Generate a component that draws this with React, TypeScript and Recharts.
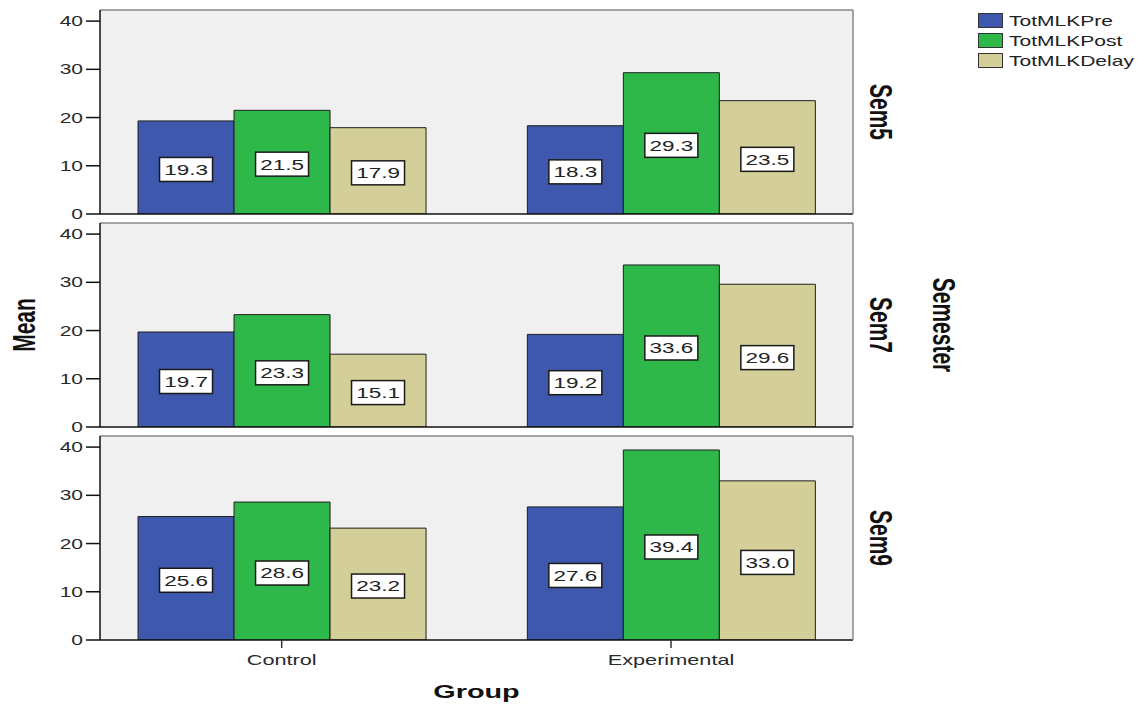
import React from 'react';
import { BarChart, Bar, XAxis, YAxis, CartesianGrid, LabelList, Legend } from 'recharts';

const categories = ['Control', 'Experimental'];
const seriesNames = ['TotMLKPre', 'TotMLKPost', 'TotMLKDelay'];
const seriesColors = ['#3e58ad', '#2fb84a', '#d4cf99'];
const yTicks = [0, 10, 20, 30, 40];

const sem5Pre = [19.3, 18.3];
const sem5Post = [21.5, 29.3];
const sem5Delay = [17.9, 23.5];

const sem7Pre = [19.7, 19.2];
const sem7Post = [23.3, 33.6];
const sem7Delay = [15.1, 29.6];

const sem9Pre = [25.6, 27.6];
const sem9Post = [28.6, 39.4];
const sem9Delay = [23.2, 33.0];

const FONT = '"Liberation Sans", Arial, sans-serif';
const X_DOMAIN: [number, number] = [-0.4667, 1.4675];
const Y_DOMAIN: [number, number] = [0, 42.3];

const build = (pre: number[], post: number[], delay: number[]) =>
  categories.map((name, i) => ({ x: i, name, pre: pre[i], post: post[i], delay: delay[i] }));

const panels = [
  { sem: 'Sem5', data: build(sem5Pre, sem5Post, sem5Delay) },
  { sem: 'Sem7', data: build(sem7Pre, sem7Post, sem7Delay) },
  { sem: 'Sem9', data: build(sem9Pre, sem9Post, sem9Delay) },
];

const YTick = (props: any) => {
  const { x, y, payload } = props;
  return (
    <text
      transform={`translate(${x},${y}) scale(1.5,1)`}
      textAnchor="end"
      dy="0.36em"
      fontSize={14}
      fontFamily={FONT}
      fill="#2a2a2a"
    >
      {payload.value}
    </text>
  );
};

const XTick = (props: any) => {
  const { x, y, payload } = props;
  return (
    <text
      transform={`translate(${x},${y + 17}) scale(1.55,1)`}
      textAnchor="middle"
      fontSize={14}
      fontFamily={FONT}
      fill="#2a2a2a"
    >
      {categories[payload.value]}
    </text>
  );
};

const ValueLabel = (props: any) => {
  const { x, y, width, height, value } = props;
  const cx = x + width / 2;
  const cy = y + height / 2 + 2;
  const w = 53;
  const h = 24;
  return (
    <g>
      <rect x={cx - w / 2} y={cy - h / 2} width={w} height={h} fill="#ffffff" stroke="#1a1a1a" strokeWidth={1.5} />
      <text
        transform={`translate(${cx},${cy}) scale(1.5,1)`}
        textAnchor="middle"
        dy="0.36em"
        fontSize={15}
        fontFamily={FONT}
        fill="#222"
      >
        {Number(value).toFixed(1)}
      </text>
    </g>
  );
};

const RotLabel = (text: string, dx: number, angle: number, size = 21) => (props: any) => {
  const { viewBox } = props;
  const cx = viewBox.x + dx;
  const cy = viewBox.y + viewBox.height / 2;
  return (
    <text
      transform={`translate(${cx},${cy}) scale(1.5,1) rotate(${angle})`}
      textAnchor="middle"
      dy="0.36em"
      fontSize={size}
      fontWeight="bold"
      fontFamily={FONT}
      fill="#111"
    >
      {text}
    </text>
  );
};

const GroupLabel = (props: any) => {
  const { viewBox } = props;
  const cx = viewBox.x + viewBox.width / 2;
  return (
    <text
      transform={`translate(${cx},${viewBox.y + 58}) scale(1.6,1)`}
      textAnchor="middle"
      fontSize={18}
      fontWeight="bold"
      fontFamily={FONT}
      fill="#111"
    >
      Group
    </text>
  );
};

const LegendContent = () => (
  <div style={{ fontFamily: FONT }}>
    {seriesNames.map((n, i) => (
      <div key={n} style={{ display: 'flex', alignItems: 'center', height: 20 }}>
        <div
          style={{
            width: 23,
            height: 13,
            background: seriesColors[i],
            border: '1px solid #333',
            marginRight: 6,
            flex: 'none',
          }}
        />
        <span
          style={{
            display: 'inline-block',
            fontSize: 15,
            color: '#222',
            transform: 'scale(1.4,1)',
            transformOrigin: 'left center',
            whiteSpace: 'nowrap',
          }}
        >
          {n}
        </span>
      </div>
    ))}
  </div>
);

const Panel = ({ idx }: { idx: number }) => {
  const p = panels[idx];
  const last = idx === panels.length - 1;
  const top = idx * 213;
  const height = last ? 278 : 224;
  const mid = idx === 1;
  return (
    <div style={{ position: 'absolute', left: 0, top }}>
      <BarChart
        width={1148}
        height={height}
        data={p.data}
        margin={{ top: 9, right: mid ? 293 : 294, bottom: last ? 0 : 9, left: 0 }}
        barGap={0}
        barSize={96}
      >
        <CartesianGrid horizontal={false} vertical={false} fill="#f0f0f0" />
        <XAxis
          xAxisId="t"
          orientation="top"
          type="number"
          dataKey="x"
          domain={X_DOMAIN}
          allowDataOverflow
          height={1}
          tick={false}
          tickLine={false}
          axisLine={{ stroke: '#888', strokeWidth: 1.5 }}
        />
        <XAxis
          type="number"
          dataKey="x"
          domain={X_DOMAIN}
          allowDataOverflow
          ticks={[0, 1]}
          interval={0}
          height={last ? 64 : 1}
          tick={last ? <XTick /> : false}
          tickLine={last ? { stroke: '#333', strokeWidth: 1.5 } : false}
          tickSize={8}
          tickMargin={0}
          axisLine={{ stroke: '#111', strokeWidth: 1.5 }}
          label={last ? { content: <GroupLabel /> } : undefined}
        />
        <YAxis
          domain={Y_DOMAIN}
          ticks={yTicks}
          allowDataOverflow
          width={100}
          tick={<YTick />}
          tickSize={14}
          tickMargin={3}
          tickLine={{ stroke: '#111', strokeWidth: 1.5 }}
          axisLine={{ stroke: '#111', strokeWidth: 1.5 }}
          label={mid ? { content: RotLabel('Mean', 24, -90) } : undefined}
        />
        <YAxis
          yAxisId="r"
          orientation="right"
          domain={Y_DOMAIN}
          allowDataOverflow
          width={1}
          tick={false}
          tickLine={false}
          axisLine={{ stroke: '#888', strokeWidth: 1.5 }}
          label={{ content: RotLabel(p.sem, 28, 90) }}
        />
        {mid && (
          <YAxis
            yAxisId="r2"
            orientation="right"
            domain={Y_DOMAIN}
            width={1}
            tick={false}
            tickLine={false}
            axisLine={false}
            label={{ content: RotLabel('Semester', 90, 90) }}
          />
        )}
        {idx === 0 && (
          <Legend
            layout="vertical"
            align="center"
            verticalAlign="middle"
            content={<LegendContent />}
            wrapperStyle={{ left: 978, top: 10, width: 170, height: 62 }}
          />
        )}
        <Bar dataKey="pre" name={seriesNames[0]} fill={seriesColors[0]} stroke="#1f1f1f" strokeWidth={1} isAnimationActive={false}>
          <LabelList dataKey="pre" content={<ValueLabel />} />
        </Bar>
        <Bar dataKey="post" name={seriesNames[1]} fill={seriesColors[1]} stroke="#1f1f1f" strokeWidth={1} isAnimationActive={false}>
          <LabelList dataKey="post" content={<ValueLabel />} />
        </Bar>
        <Bar dataKey="delay" name={seriesNames[2]} fill={seriesColors[2]} stroke="#1f1f1f" strokeWidth={1} isAnimationActive={false}>
          <LabelList dataKey="delay" content={<ValueLabel />} />
        </Bar>
      </BarChart>
    </div>
  );
}

export default function App() {
  return (
    <div style={{ position: 'absolute', left: 0, top: 0, width: 1148, height: 704, background: '#fff', overflow: 'hidden' }}>
      {panels.map((_, i) => (
        <Panel key={i} idx={i} />
      ))}
    </div>
  );
}
